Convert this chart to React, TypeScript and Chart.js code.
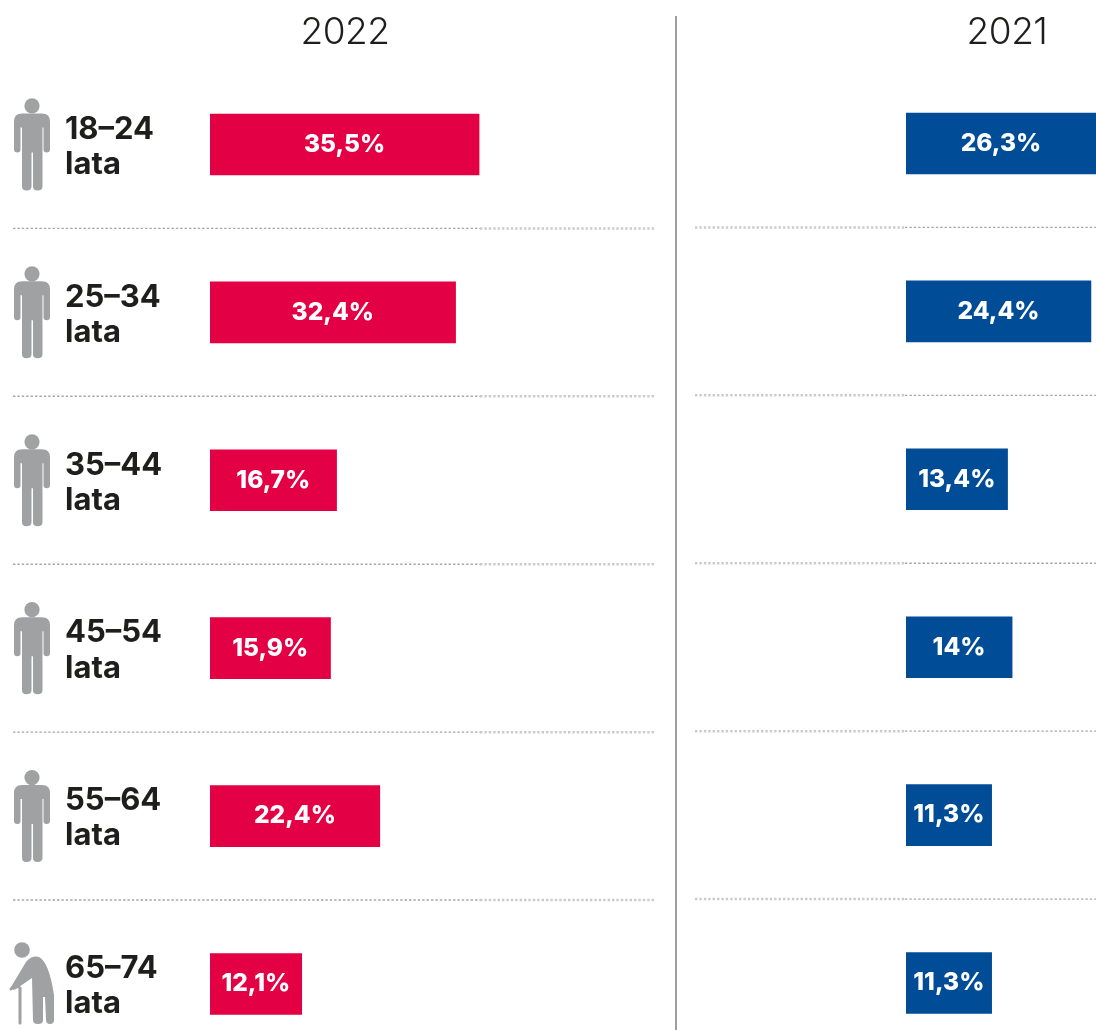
import React, { useEffect, useRef } from "react";
import { Chart, registerables } from "chart.js";

Chart.register(...registerables);

const categories = ["18–24", "25–34", "35–44", "45–54", "55–64", "65–74"];
const unitLabel = "lata";
const values2022 = [35.5, 32.4, 16.7, 15.9, 22.4, 12.1];
const values2021 = [26.3, 24.4, 13.4, 14, 11.3, 11.3];
const labels2022 = ["35,5%", "32,4%", "16,7%", "15,9%", "22,4%", "12,1%"];
const labels2021 = ["26,3%", "24,4%", "13,4%", "14%", "11,3%", "11,3%"];
const titles = ["2022", "2021"];

const RED = "#E30045";
const BLUE = "#004C97";
const ICON = "#A0A1A2";
const INK = "#1E1E1C";
const FONT = "Inter";

function valueLabels(texts: string[]) {
  return {
    id: "valueLabels",
    afterDatasetsDraw(chart: any) {
      const { ctx, chartArea } = chart;
      ctx.save();
      ctx.fillStyle = "#fff";
      ctx.font = `800 24.5px ${FONT}`;
      ctx.textAlign = "center";
      ctx.textBaseline = "middle";
      chart.getDatasetMeta(0).data.forEach((bar: any, i: number) => {
        const right = Math.min(bar.x, chartArea.right);
        ctx.fillText(texts[i], (bar.base + right) / 2, bar.y);
      });
      ctx.restore();
    },
  };
}

function separators(segments: { from: number; to: number; soft: boolean }[]) {
  return {
    id: "separators",
    beforeDatasetsDraw(chart: any) {
      const { ctx } = chart;
      const y = chart.scales.y;
      ctx.save();
      for (let i = 1; i < categories.length; i++) {
        const py = (y.getPixelForValue(i - 1) + y.getPixelForValue(i)) / 2;
        segments.forEach((s) => {
          ctx.beginPath();
          ctx.strokeStyle = s.soft ? "#c9cbcd" : "#a4a6a8";
          ctx.lineWidth = s.soft ? 2.5 : 1.4;
          ctx.setLineDash([2.4, 2]);
          ctx.moveTo(s.from, py);
          ctx.lineTo(s.to, py);
          ctx.stroke();
        });
      }
      ctx.restore();
    },
  };
}

function person(ctx: CanvasRenderingContext2D, cy: number) {
  ctx.beginPath();
  ctx.arc(32, cy - 38.5, 7.6, 0, Math.PI * 2);
  ctx.fill();
  const t = cy - 31;
  ctx.beginPath();
  ctx.moveTo(14, t + 8);
  ctx.quadraticCurveTo(14, t, 22, t);
  ctx.lineTo(42, t);
  ctx.quadraticCurveTo(50, t, 50, t + 8);
  ctx.lineTo(50, t + 36);
  ctx.quadraticCurveTo(50, t + 39, 46.5, t + 39);
  ctx.quadraticCurveTo(43.5, t + 39, 43.5, t + 36);
  ctx.lineTo(43.5, t + 14);
  ctx.lineTo(42.5, t + 14);
  ctx.lineTo(42.5, t + 73);
  ctx.quadraticCurveTo(42.5, t + 77, 37.5, t + 77);
  ctx.quadraticCurveTo(33, t + 77, 33, t + 73);
  ctx.lineTo(33, t + 39);
  ctx.lineTo(31.5, t + 39);
  ctx.lineTo(31.5, t + 73);
  ctx.quadraticCurveTo(31.5, t + 77, 26.5, t + 77);
  ctx.quadraticCurveTo(22, t + 77, 22, t + 73);
  ctx.lineTo(22, t + 14);
  ctx.lineTo(20.5, t + 14);
  ctx.lineTo(20.5, t + 36);
  ctx.quadraticCurveTo(20.5, t + 39, 17.5, t + 39);
  ctx.quadraticCurveTo(14, t + 39, 14, t + 36);
  ctx.closePath();
  ctx.fill();
}

function elder(ctx: CanvasRenderingContext2D, cy: number) {
  const o = cy - 984;
  ctx.beginPath();
  ctx.arc(22, 950 + o, 7.8, 0, Math.PI * 2);
  ctx.fill();
  ctx.beginPath();
  ctx.moveTo(26, 962 + o);
  ctx.quadraticCurveTo(32, 955 + o, 39, 957 + o);
  ctx.quadraticCurveTo(49, 962 + o, 54, 995 + o);
  ctx.lineTo(54, 1020 + o);
  ctx.quadraticCurveTo(54, 1024 + o, 50, 1024 + o);
  ctx.quadraticCurveTo(46, 1024 + o, 46, 1020 + o);
  ctx.lineTo(45, 997 + o);
  ctx.lineTo(43, 997 + o);
  ctx.lineTo(43, 1020 + o);
  ctx.quadraticCurveTo(43, 1024 + o, 38, 1024 + o);
  ctx.quadraticCurveTo(33, 1024 + o, 33, 1020 + o);
  ctx.lineTo(32, 978 + o);
  ctx.lineTo(16, 989 + o);
  ctx.lineTo(13, 990 + o);
  ctx.lineTo(11, 987 + o);
  ctx.closePath();
  ctx.fill();
  ctx.strokeStyle = ICON;
  ctx.lineWidth = 3;
  ctx.lineCap = "round";
  ctx.beginPath();
  ctx.moveTo(11, 989 + o);
  ctx.quadraticCurveTo(15, 983 + o, 20, 988 + o);
  ctx.lineTo(20, 1023 + o);
  ctx.stroke();
}

const icons = {
  id: "icons",
  afterDraw(chart: any) {
    const { ctx } = chart;
    const y = chart.scales.y;
    ctx.save();
    ctx.fillStyle = ICON;
    categories.forEach((_, i) => {
      const cy = y.getPixelForValue(i);
      if (i === categories.length - 1) elder(ctx, cy);
      else person(ctx, cy);
    });
    ctx.restore();
  },
};

function makeChart(
  canvas: HTMLCanvasElement,
  values: number[],
  color: string,
  maxValue: number,
  padding: { left: number; top: number },
  showLabels: boolean,
  plugins: any[]
) {
  return new Chart(canvas, {
    type: "bar",
    data: {
      labels: categories.map((c) => [c, unitLabel]),
      datasets: [{ data: values, backgroundColor: color, barThickness: 61, borderWidth: 0 }],
    },
    options: {
      indexAxis: "y",
      animation: false,
      responsive: false,
      maintainAspectRatio: false,
      layout: { padding: { left: padding.left, top: padding.top, right: 0, bottom: 0 } },
      plugins: { legend: { display: false }, tooltip: { enabled: false }, title: { display: false } },
      scales: {
        x: { display: false, min: 0, max: maxValue, grid: { display: false } },
        y: {
          display: showLabels,
          grid: { display: false, drawTicks: false },
          border: { display: false },
          afterFit: (scale: any) => {
            if (showLabels) scale.width = 145;
          },
          ticks: {
            crossAlign: "far",
            padding: 0,
            labelOffset: 2.5,
            autoSkip: false,
            color: INK,
            font: { family: FONT, weight: 700, size: 31, lineHeight: 1.13 },
          },
        },
      },
    },
    plugins,
  } as any);
}

export default function App() {
  const leftRef = useRef<HTMLCanvasElement>(null);
  const rightRef = useRef<HTMLCanvasElement>(null);

  useEffect(() => {
    const left = makeChart(
      leftRef.current!,
      values2022,
      RED,
      61.35,
      { left: 65, top: 60.5 },
      true,
      [
        separators([
          { from: 13, to: 480, soft: false },
          { from: 480, to: 655, soft: true },
        ]),
        valueLabels(labels2022),
        icons,
      ]
    );
    const right = makeChart(
      rightRef.current!,
      values2021,
      BLUE,
      25.07,
      { left: 231, top: 59.5 },
      false,
      [
        separators([
          { from: 20, to: 230, soft: true },
          { from: 230, to: 421, soft: false },
        ]),
        valueLabels(labels2021),
      ]
    );
    return () => {
      left.destroy();
      right.destroy();
    };
  }, []);

  const titleStyle: React.CSSProperties = {
    position: "absolute",
    top: 9,
    transform: "translateX(-50%)",
    fontFamily: FONT,
    fontWeight: 300,
    fontSize: 37,
    letterSpacing: "-0.5px",
    lineHeight: "44px",
    color: INK,
  };

  return (
    <div
      style={{
        position: "absolute",
        left: 0,
        top: 0,
        width: 1096,
        height: 1030,
        overflow: "hidden",
        background: "#fff",
      }}
    >
      <canvas
        ref={leftRef}
        width={675}
        height={1103}
        style={{ position: "absolute", left: 0, top: 0, width: 675, height: 1103 }}
      />
      <canvas
        ref={rightRef}
        width={421}
        height={1067}
        style={{ position: "absolute", left: 675, top: 0, width: 421, height: 1067 }}
      />
      <div
        style={{ position: "absolute", left: 675, top: 16, width: 2, height: 1014, background: "#9C9EA0" }}
      />
      <div style={{ ...titleStyle, left: 345 }}>{titles[0]}</div>
      <div style={{ ...titleStyle, left: 1007 }}>{titles[1]}</div>
    </div>
  );
}
